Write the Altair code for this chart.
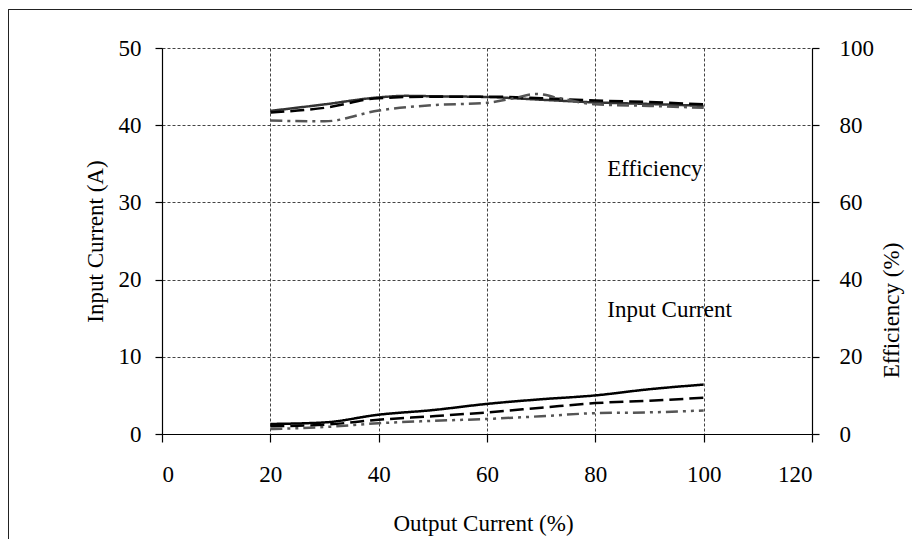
import altair as alt
import pandas as pd

FONT = "Liberation Serif"

# ---- data ----
x_cur = [20, 30, 40, 50, 60, 70, 80, 90, 100]
cur_a = [1.3, 1.5, 2.5, 3.1, 3.9, 4.5, 5.0, 5.8, 6.4]      # solid
cur_b = [1.0, 1.2, 1.85, 2.3, 2.8, 3.4, 4.0, 4.3, 4.7]     # dashed
cur_c = [0.65, 0.9, 1.4, 1.7, 1.95, 2.3, 2.7, 2.8, 3.05]   # dash-dot-dot

x_eff_a = [20, 30, 40, 45, 50, 60, 70, 80, 90, 100]
eff_a = [83.7, 85.4, 87.2, 87.6, 87.5, 87.3, 86.6, 85.9, 85.5, 85.0]
x_eff_b = [20, 30, 40, 50, 60, 70, 80, 90, 100]
eff_b = [83.3, 84.5, 87.0, 87.4, 87.4, 87.0, 86.4, 86.0, 85.4]
x_eff_c = [20, 30, 40, 50, 60, 65, 69, 74, 80, 90, 100]
eff_c = [81.2, 81.0, 83.8, 85.2, 85.8, 87.0, 88.1, 86.8, 85.4, 85.0, 84.5]

x_ticks = [0, 20, 40, 60, 80, 100, 120]
cur_ticks = [0, 10, 20, 30, 40, 50]
eff_ticks = [0, 20, 40, 60, 80, 100]

labels = ["Efficiency", "Input Current"]
label_x = [82.2, 82.2]
label_y_eff = [66.8, 30.4]

# ---- tables ----
cur_rows = []
for name, ys in [("a", cur_a), ("b", cur_b), ("c", cur_c)]:
    for x, y in zip(x_cur, ys):
        cur_rows.append({"x": x, "y": y, "s": name})
cur_df = pd.DataFrame(cur_rows)

eff_rows = []
for name, xs, ys in [("a", x_eff_a, eff_a), ("b", x_eff_b, eff_b), ("c", x_eff_c, eff_c)]:
    for x, y in zip(xs, ys):
        eff_rows.append({"x": x, "y": y, "s": name})
eff_df = pd.DataFrame(eff_rows)

lab_df = pd.DataFrame({"x": label_x, "y": label_y_eff, "t": labels})

W, H = 650, 386

xenc = alt.X(
    "x:Q",
    scale=alt.Scale(domain=[0, 120], nice=False),
    axis=alt.Axis(
        values=x_ticks, title="Output Current (%)", grid=True,
        gridDash=[3, 2], gridColor="#444444", gridWidth=1, gridOpacity=1,
        tickSize=8, labelPadding=21, titleX=321, titleY=89,
        titleBaseline="middle", titleAlign="center",
    ),
)

cur_lines = alt.Chart(cur_df).mark_line(strokeWidth=2.5, interpolate="monotone").encode(
    x=xenc,
    y=alt.Y(
        "y:Q",
        scale=alt.Scale(domain=[0, 50], nice=False),
        axis=alt.Axis(
            values=cur_ticks, title="Input Current (A)", orient="left", grid=True,
            gridDash=[3, 2], gridColor="#444444", gridWidth=1, gridOpacity=1,
            tickSize=7, labelPadding=14, titleAngle=270, titleX=-67, titleY=193,
            titleBaseline="middle", titleAlign="center",
        ),
    ),
    color=alt.Color("s:N", scale=alt.Scale(domain=["a", "b", "c"], range=["#000000", "#000000", "#555555"]), legend=None),
    strokeDash=alt.StrokeDash("s:N", scale=alt.Scale(domain=["a", "b", "c"], range=[[1, 0], [14, 6], [12, 5, 3, 5, 3, 5]]), legend=None),
    detail="s:N",
)

eff_lines = alt.Chart(eff_df).mark_line(strokeWidth=2.5, interpolate="monotone").encode(
    x=alt.X("x:Q", scale=alt.Scale(domain=[0, 120], nice=False)),
    y=alt.Y(
        "y:Q",
        scale=alt.Scale(domain=[0, 100], nice=False),
        axis=alt.Axis(
            values=eff_ticks, title="Efficiency (%)", orient="right", grid=False,
            tickSize=7, labelPadding=20, titleAngle=270, titleX=79, titleY=262,
            titleBaseline="middle", titleAlign="center",
        ),
    ),
    color=alt.Color("s:N", scale=alt.Scale(domain=["a", "b", "c"], range=["#333333", "#000000", "#555555"]), legend=None),
    strokeDash=alt.StrokeDash("s:N", scale=alt.Scale(domain=["a", "b", "c"], range=[[1, 0], [14, 6], [12, 5, 3, 5]]), legend=None),
    detail="s:N",
)

texts = alt.Chart(lab_df).mark_text(
    align="left", baseline="alphabetic", font=FONT, fontSize=23, color="#000000"
).encode(
    x=alt.X("x:Q", scale=alt.Scale(domain=[0, 120], nice=False)),
    y=alt.Y("y:Q", scale=alt.Scale(domain=[0, 100], nice=False)),
    text="t:N",
)

frame_left = alt.Chart(lab_df).mark_rule(color="#222222", strokeWidth=1).encode(
    x=alt.value(-153.5), y=alt.value(-38.5), y2=alt.value(600)
)
frame_top = alt.Chart(lab_df).mark_rule(color="#222222", strokeWidth=1).encode(
    x=alt.value(-153.5), x2=alt.value(900), y=alt.value(-38.5)
)

right_layer = alt.layer(eff_lines, texts, frame_left, frame_top)

chart = alt.layer(cur_lines, right_layer).resolve_scale(
    y="independent", color="independent", strokeDash="independent"
).properties(
    width=W, height=H,
    background="white",
    autosize=alt.AutoSizeParams(type="none"),
    padding={"left": 154, "top": 40, "right": 100, "bottom": 105},
).configure_view(stroke=None).configure_axis(
    labelFont=FONT, titleFont=FONT, labelFontSize=23, titleFontSize=23,
    labelFontWeight="normal", titleFontWeight="normal",
    labelColor="#000000", titleColor="#000000",
    domainColor="#000000", domainWidth=1.2, tickColor="#000000", tickWidth=1.2,
)

chart.save("out.html", embed_options={"renderer": "svg", "actions": False})
